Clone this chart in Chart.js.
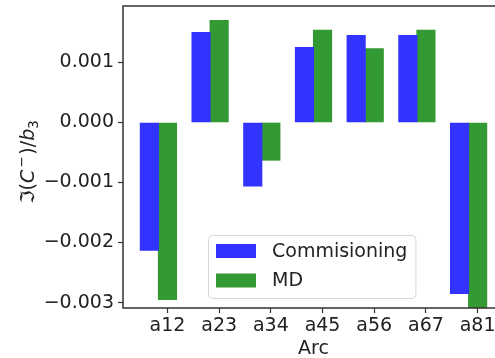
<!DOCTYPE html>
<html>
<head>
<meta charset="utf-8">
<script src="https://cdn.jsdelivr.net/npm/chart.js@4.4.1/dist/chart.umd.min.js"></script>
<style>
  html, body { margin: 0; padding: 0; background: #fff; }
  #wrap { width: 495px; height: 358px; overflow: hidden; position: relative; }
  canvas { display: block; }
</style>
</head>
<body>
<div id="wrap"><canvas id="arcChart" width="520" height="358"></canvas></div>
<script>
// arcs along the ring
const arcs = ['a12', 'a23', 'a34', 'a45', 'a56', 'a67', 'a81'];

// imaginary part of C- normalised to b3, per arc
const commissioning = [-0.00213, 0.0015, -0.00106, 0.00125, 0.00145, 0.00145, -0.00285];
const md = [-0.00295, 0.0017, -0.00063, 0.00154, 0.00123, 0.00154, -0.0033];

const yTicks = [-0.003, -0.002, -0.001, 0.000, 0.001];

// y label pieces: text, italic, size factor, baseline shift (em), gap after (px)
const yLabel = [
  ['\u2111(', false, 1, 0, 0],
  ['C', true, 1, 0, 2],
  ['\u2212', false, 0.7, 0.42, 2],
  [')/', false, 1, 0, 0],
  ['b', true, 1, 0, 0],
  ['3', false, 0.7, -0.2, 0]
];

const BAR_W = 0.35;
const FS = 19;
const FONT = '"DejaVu Sans", sans-serif';
const INK = '#222';

// spines: top, left and bottom (right edge runs off the page)
const frame = {
  id: 'frame',
  afterDraw(chart) {
    const { ctx, chartArea: a } = chart;
    ctx.save();
    ctx.strokeStyle = '#333';
    ctx.lineWidth = 1.5;
    ctx.beginPath();
    ctx.moveTo(chart.width, a.top);
    ctx.lineTo(a.left, a.top);
    ctx.lineTo(a.left, a.bottom);
    ctx.lineTo(chart.width, a.bottom);
    ctx.stroke();
    ctx.restore();
  }
};

// rotated y label with italic symbols and raised/lowered scripts
const yTitle = {
  id: 'yTitle',
  afterDraw(chart) {
    const { ctx, chartArea: a } = chart;
    const fontOf = p => (p[1] ? 'oblique ' : '') + (FS * p[2]) + 'px ' + FONT;
    ctx.save();
    let total = 0;
    yLabel.forEach(p => { ctx.font = fontOf(p); total += ctx.measureText(p[0]).width + p[4]; });
    ctx.translate(34, (a.top + a.bottom) / 2 + 5);
    ctx.rotate(-Math.PI / 2);
    ctx.fillStyle = INK;
    ctx.textBaseline = 'alphabetic';
    let x = -total / 2;
    yLabel.forEach(p => {
      ctx.font = fontOf(p);
      ctx.fillText(p[0], x, -p[3] * FS);
      x += ctx.measureText(p[0]).width + p[4];
    });
    ctx.restore();
  }
};

// matplotlib-style legend box sitting in the lower part of the axes
const boxLegend = {
  id: 'boxLegend',
  afterDraw(chart) {
    const { ctx, chartArea: a } = chart;
    const sets = chart.data.datasets;
    ctx.save();
    ctx.font = FS + 'px ' + FONT;
    const textW = Math.max(...sets.map(d => ctx.measureText(d.label).width));
    const pad = 8, sw = 40, sh = 14, gap = 16, row = 29.5;
    const w = pad + sw + gap + textW + pad;
    const h = 63;
    const x = a.left + 85;
    const y = a.bottom - 10 - h;
    ctx.fillStyle = 'rgba(255,255,255,0.8)';
    ctx.strokeStyle = '#d6d6d6';
    ctx.lineWidth = 1;
    ctx.beginPath();
    ctx.roundRect(x + 0.5, y + 0.5, w, h, 4);
    ctx.fill();
    ctx.stroke();
    ctx.textBaseline = 'middle';
    sets.forEach((d, i) => {
      const cy = y + 16 + i * row;
      ctx.fillStyle = d.backgroundColor;
      ctx.fillRect(x + pad, cy - sh / 2, sw, sh);
      ctx.fillStyle = INK;
      ctx.fillText(d.label, x + pad + sw + gap, cy + 1);
    });
    ctx.restore();
  }
};

const fmt = v => v.toFixed(3).replace('-', '\u2212');

new Chart(document.getElementById('arcChart'), {
  type: 'bar',
  data: {
    datasets: [
      {
        label: 'Commisioning',
        data: commissioning.map((v, i) => ({ x: i - BAR_W, y: v })),
        backgroundColor: 'rgb(51,51,255)'
      },
      {
        label: 'MD',
        data: md.map((v, i) => ({ x: i, y: v })),
        backgroundColor: 'rgb(51,153,51)'
      }
    ]
  },
  options: {
    responsive: false,
    animation: false,
    devicePixelRatio: 1,
    layout: { padding: { left: 0, top: 6, right: 16, bottom: 0 } },
    datasets: { bar: { grouped: false, barThickness: 18.5 } },
    plugins: { legend: { display: false }, tooltip: { enabled: false } },
    scales: {
      x: {
        type: 'linear',
        offset: false,
        min: -0.86,
        max: 6.51,
        afterBuildTicks: s => { s.ticks = arcs.map((_, i) => ({ value: i })); },
        afterFit: s => { s.height = 50; s.paddingLeft = 0; s.paddingRight = 0; },
        grid: { display: true, offset: false, drawOnChartArea: false, tickLength: 5, tickColor: '#333', tickWidth: 1.2 },
        border: { display: false },
        ticks: {
          padding: 2,
          maxRotation: 0,
          autoSkip: false,
          color: INK,
          font: { family: FONT, size: FS },
          callback: v => arcs[v] ?? ''
        },
        title: { display: true, text: 'Arc', color: INK, font: { family: FONT, size: FS }, padding: { top: 0, bottom: -2 } }
      },
      y: {
        min: -0.00309,
        max: 0.00194,
        afterBuildTicks: s => { s.ticks = yTicks.map(v => ({ value: v })); },
        afterFit: s => { s.width = 123; s.paddingTop = 0; s.paddingBottom = 0; },
        grid: { display: true, drawOnChartArea: false, tickLength: 5, tickColor: '#333', tickWidth: 1.2 },
        border: { display: false },
        ticks: {
          padding: 4,
          color: INK,
          font: { family: FONT, size: FS },
          callback: v => fmt(v)
        }
      }
    }
  },
  plugins: [frame, yTitle, boxLegend]
});
</script>
</body>
</html>
